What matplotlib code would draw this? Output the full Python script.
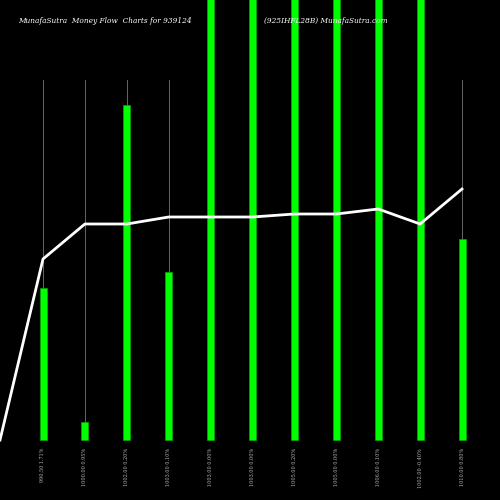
import matplotlib
matplotlib.use("Agg")
import matplotlib.pyplot as plt

labels = ["990.50 1.71%", "1000.00 0.95%", "1002.00 0.20%", "1003.00 0.10%",
          "1003.00 0.00%", "1003.00 0.00%", "1005.00 0.20%", "1005.00 0.00%",
          "1006.00 0.10%", "1002.00 -0.40%", "1010.00 0.80%"]
flow = [152, 18, 335, 168, 500, 500, 500, 500, 500, 500, 201]
price = [181, 216, 216, 223, 223, 223, 226, 226, 231, 216, 251]
price_start = 0

fig = plt.figure(figsize=(5, 5), dpi=100, facecolor="black")
ax = fig.add_axes([0, 0, 1, 1])
ax.set_facecolor("black")
ax.set_xlim(0, 500)
ax.set_ylim(-60, 440)
ax.axis("off")

xs = [43 + 41.9 * i for i in range(len(flow))]
for x in xs:
    ax.plot([x, x], [0, 360], color="#777777", lw=0.6, zorder=1)
ax.bar(xs, flow, width=7, color="#00ff00", edgecolor="#00aa00", lw=0.5, zorder=2)
ax.plot([0] + xs, [price_start] + price, color="white", lw=2, zorder=3)

for x, l in zip(xs, labels):
    ax.text(x, -8, l, rotation=90, color="#bbbbbb", fontsize=3.5, ha="center", va="top",
            family="DejaVu Serif")

fig.text(0.036, 0.958, "MunafaSutra  Money Flow  Charts for 939124", color="white",
         fontsize=5.3, style="italic", family="DejaVu Serif", va="center")
fig.text(0.528, 0.958, "(925IHFL28B) MunafaSutra.com", color="white",
         fontsize=5.3, style="italic", family="DejaVu Serif", va="center")
fig.savefig("out.png", facecolor="black")
